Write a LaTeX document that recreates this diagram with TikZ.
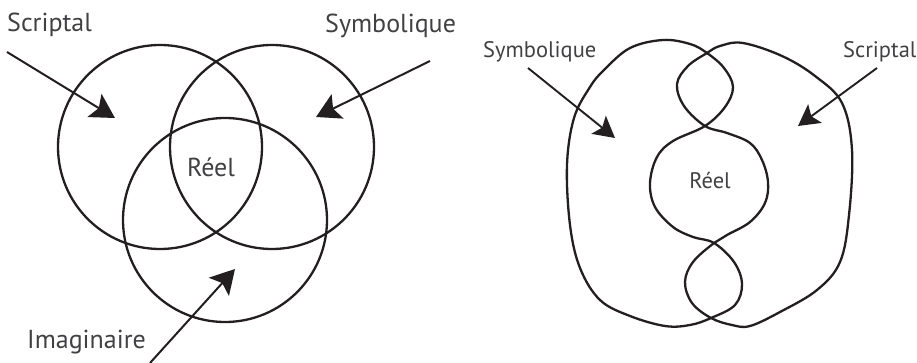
\documentclass[tikz,border=0pt]{standalone}
\usepackage{fontspec}
\setmainfont{PT Sans}
\usetikzlibrary{arrows.meta}
\definecolor{ink}{HTML}{231F20}
\definecolor{inktext}{HTML}{414042}

\begin{document}
\begin{tikzpicture}[x=1pt, y=-1pt,
    ring/.style={line width=2.3pt, draw=ink},
    pointer/.style={line width=2pt, draw=ink,
        -{Stealth[length=24pt, width=27pt, inset=5pt]}},
    pointersmall/.style={line width=1.9pt, draw=ink,
        -{Stealth[length=21pt, width=23pt, inset=4.5pt]}},
    biglabel/.style={font=\fontsize{26}{30}\selectfont, text=inktext, inner sep=0pt},
    smalllabel/.style={font=\fontsize{22.5}{27}\selectfont, text=inktext, inner sep=0pt}]
    \useasboundingbox (0,0) rectangle (917,363);

    % three circles
    \begin{scope}
        \draw[ring] (160,147) circle[radius=102];
        \draw[ring] (272,147) circle[radius=102];
        \draw[ring] (225,220) circle[radius=102];

        \node[biglabel, anchor=base west] (scr) at (7,32) {Scriptal};
        \node[biglabel, anchor=base west] (sym) at (325,33) {Symbolique};
        \node[biglabel, anchor=base west] (ima) at (27,348) {Imaginaire};
        \node[biglabel, anchor=base] (reel) at (211,177) {Réel};

        \coordinate (scrS) at (7,52);
        \coordinate (scrT) at (115,118);
        \coordinate (symS) at (430,61);
        \coordinate (symT) at (316,117);
        \coordinate (imaS) at (150,363);
        \coordinate (imaT) at (235,269);

        \draw[pointer] (scrS) -- (scrT);
        \draw[pointer] (symS) -- (symT);
        \draw[pointer] (imaS) -- (imaT);
    \end{scope}

    % two interlaced loops
    \begin{scope}
        \draw[ring] plot[smooth cycle, tension=0.6] coordinates {
            (663,40) (690,44) (707,53) (724,68) (733,87) (725,107) (705,126)
            (673,141) (657,157) (650,183) (655,207) (673,227) (693,237) (714,243)
            (734,262) (742,284) (735,305) (711,318) (690,325) (665,326)
            (630,316) (600,300) (580,268) (570,225) (567,165) (574,118)
            (590,87) (604,70) (630,48)};
        \draw[ring] plot[smooth cycle, tension=0.6] coordinates {
            (743,43) (720,46) (707,53) (688,66) (677,84) (684,106) (705,126)
            (727,133) (750,143) (762,160) (768,182) (765,203) (750,222) (727,235)
            (714,243) (693,262) (685,282) (692,303) (711,318) (732,325) (750,326)
            (780,312) (817,290) (840,262) (849,215) (852,150) (842,103)
            (815,76) (782,56)};

        \node[smalllabel, anchor=base west] (symR) at (483,58) {Symbolique};
        \node[smalllabel, anchor=base west] (scrR) at (843,58) {Scriptal};
        \node[smalllabel, anchor=base] (reelR) at (710,189) {Réel};

        \coordinate (symRS) at (528,68);
        \coordinate (symRT) at (615,138);
        \coordinate (scrRS) at (877,68);
        \coordinate (scrRT) at (798,126);

        \draw[pointersmall] (symRS) -- (symRT);
        \draw[pointersmall] (scrRS) -- (scrRT);
    \end{scope}
\end{tikzpicture}
\end{document}
